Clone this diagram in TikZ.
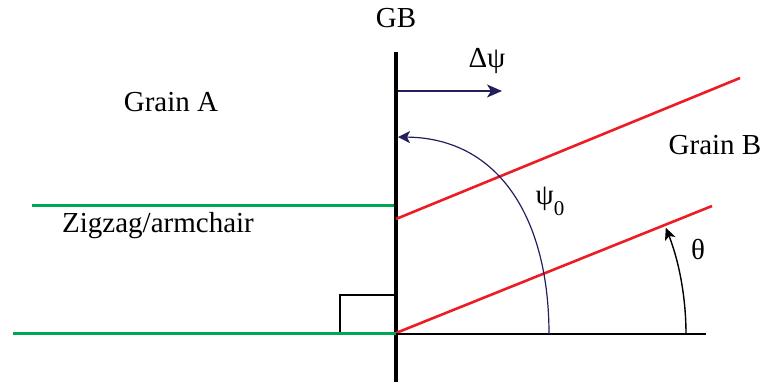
\documentclass[tikz,border=0pt]{standalone}
\usepackage{fontspec}
\setmainfont{Liberation Serif}
\newfontfamily\gbserif{Liberation Serif}
\usetikzlibrary{arrows.meta}
\definecolor{gbgreen}{RGB}{0,166,81}
\definecolor{gbred}{RGB}{237,28,36}
\definecolor{gbnavy}{RGB}{35,31,94}

\begin{document}
\begin{tikzpicture}[x=1pt,y=-1pt,
  lbl/.style={font=\gbserif\fontsize{29}{32}\selectfont,inner sep=0pt,anchor=base},
  zig/.style={gbgreen,line width=3pt},
  plane/.style={gbred,line width=2.6pt},
  tip/.style={-{Stealth[length=15pt,width=13pt,inset=4pt]}}]
\useasboundingbox(0,0)rectangle(764,385);
% grain boundary
\coordinate(gbtop)at(396,52);\coordinate(gbbot)at(396,382);
\coordinate(O)at(396,333);\coordinate(Otop)at(396,219);
\draw[line width=4.2pt](gbtop)--(gbbot);
\node[lbl](gb)at(396,28){GB};
% grain A side
\coordinate(zigA)at(32,206);\coordinate(zigAe)at(394,206);
\coordinate(zigB)at(13,333);
\draw[zig](zigA)--(zigAe);\draw[zig](zigB)--(O);
\draw[line width=2.2pt](394,295)--(340,295)--(340,332);
\node[lbl](grainA)at(171,112){Grain A};
\node[lbl](zz)at(158,233){Zigzag/armchair};
% grain B side
\coordinate(redA)at(740,78);\coordinate(redB)at(712,206);\coordinate(xend)at(706,334);
\draw[plane](Otop)--(redA);\draw[plane](O)--(redB);
\draw[line width=1.4pt](396,334)--(xend);
\node[lbl](grainB)at(715,155){Grain B};
% shift of the boundary
\coordinate(dpA)at(398,91);\coordinate(dpB)at(502,91);
\draw[gbnavy,line width=1.4pt,tip](dpA)--(dpB);
\node[lbl](dpsi)at(487,68){Δψ};
% angles
\draw[gbnavy,line width=1.2pt,-{Stealth[length=12pt,width=12pt,inset=3pt]}](549,334)..controls(549,220)and(500,138)..(398,137);
\node[lbl](psi0)at(550,205){ψ\raisebox{-10pt}{\fontsize{21}{22}\selectfont 0}};
\draw[line width=1.4pt,-{Stealth[length=12pt,width=11pt,inset=3pt]}](686,334)arc[start angle=0,end angle=-21.5,radius=290];
\node[lbl](theta)at(698,260){θ};
\end{tikzpicture}
\end{document}
